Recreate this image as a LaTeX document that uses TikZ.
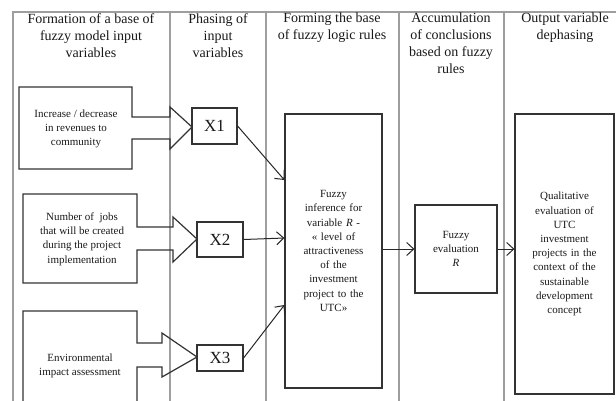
\documentclass[tikz,border=0pt]{standalone}
\usepackage{fontspec}
\setmainfont{Liberation Serif}
\usetikzlibrary{arrows.meta,calc}
\begin{document}
\begin{tikzpicture}[x=1pt,y=-1pt,
  colline/.style={draw=black!38,line width=1.4pt},
  hdr/.style={anchor=north,align=center,font=\fontsize{14}{17}\selectfont,text=black!90,inner sep=0pt},
  shapeline/.style={draw=black!80,line width=1.2pt},
  boxtxt/.style={align=center,font=\fontsize{11}{14.2}\selectfont,text=black!90,inner sep=0pt},
  xbox/.style={draw=black!80,line width=1.2pt,minimum width=46pt,minimum height=36pt,inner sep=0pt,font=\fontsize{17}{20}\selectfont,text=black!90},
  tallbox/.style={draw=black!80,line width=1.2pt,inner sep=0pt,align=center,font=\fontsize{11}{14.2}\selectfont,text=black!90},
  arr/.style={draw=black!85,line width=1pt,-{Straight Barb[length=7pt,width=13pt]}}
]
\useasboundingbox (0,0) rectangle (616,400);
\clip (0,0) rectangle (616,400);
% frame
\draw[colline] (13,402) -- (13,12) -- (618,12);
\foreach \x in {170,266,399,504} \draw[colline] (\x,12) -- (\x,402);
% headers
\node[hdr] (h1) at (91,13) {Formation of a base of\\fuzzy model input\\variables};
\node[hdr] (h2) at (218,13) {Phasing of\\input\\variables};
\node[hdr] (h3) at (332,13) {Forming the base\\of fuzzy logic rules};
\node[hdr] (h4) at (451,13) {Accumulation\\of conclusions\\based on fuzzy\\rules};
\node[hdr] (h5) at (565,13) {Output variable\\dephasing};
% input shapes
\draw[shapeline,line join=miter] (19,87) -- (132,87) -- (132,117) -- (170,117) -- (170,107) -- (192,127) -- (170,149) -- (170,139) -- (132,139) -- (132,169) -- (19,169) -- cycle;
\node[boxtxt] (t1) at (76,129) {Increase / decrease\\in revenues to\\community};
\draw[shapeline,line join=miter] (23,194) -- (137,194) -- (137,227) -- (173,227) -- (173,217) -- (197,239) -- (173,262) -- (173,250) -- (137,250) -- (137,283) -- (23,283) -- cycle;
\node[boxtxt] (t2) at (82,239) {Number of \ jobs\\that will be created\\during the project\\implementation};
\draw[shapeline,line join=miter] (23,311) -- (137,311) -- (137,343) -- (162,343) -- (162,333) -- (197,357) -- (162,377) -- (162,367) -- (137,367) -- (137,410) -- (23,410) -- cycle;
\node[boxtxt] (t3) at (80,366) {Environmental\\impact assessment};
% X boxes
\node[xbox,minimum width=45pt] (x1) at (214.5,126) {X1};
\node[xbox,minimum height=35pt] (x2) at (220,239.5) {X2};
\node[xbox,minimum height=26pt] (x3) at (220,358) {X3};
% fuzzy inference
\node[tallbox,minimum width=97pt,minimum height=274pt,text width=90pt] (fz) at (333.5,251) {Fuzzy\\inference for\\variable \textit{R} -\\« level of\\attractiveness\\of the\\investment\\project to the\\UTC»};
\node[tallbox,minimum width=82pt,minimum height=88pt,text width=76pt] (ev) at (456,249) {Fuzzy\\evaluation\\\textit{R}};
\node[tallbox,minimum width=99pt,minimum height=280pt,text width=92pt] (q) at (564.5,254) {Qualitative\\evaluation of\\UTC\\investment\\projects in the\\context of the\\sustainable\\development\\concept};
% connectors
\draw[arr] (x1.east) -- ([yshift=71pt]fz.west);
\draw[arr] (x2.east) -- ([yshift=13pt]fz.west);
\draw[arr] (x3.east) -- ([yshift=-54pt]fz.west);
\draw[arr] (fz.east |- ev.west) -- (ev.west);
\draw[arr] (ev.east) -- (ev.east -| q.west);
\end{tikzpicture}
\end{document}
